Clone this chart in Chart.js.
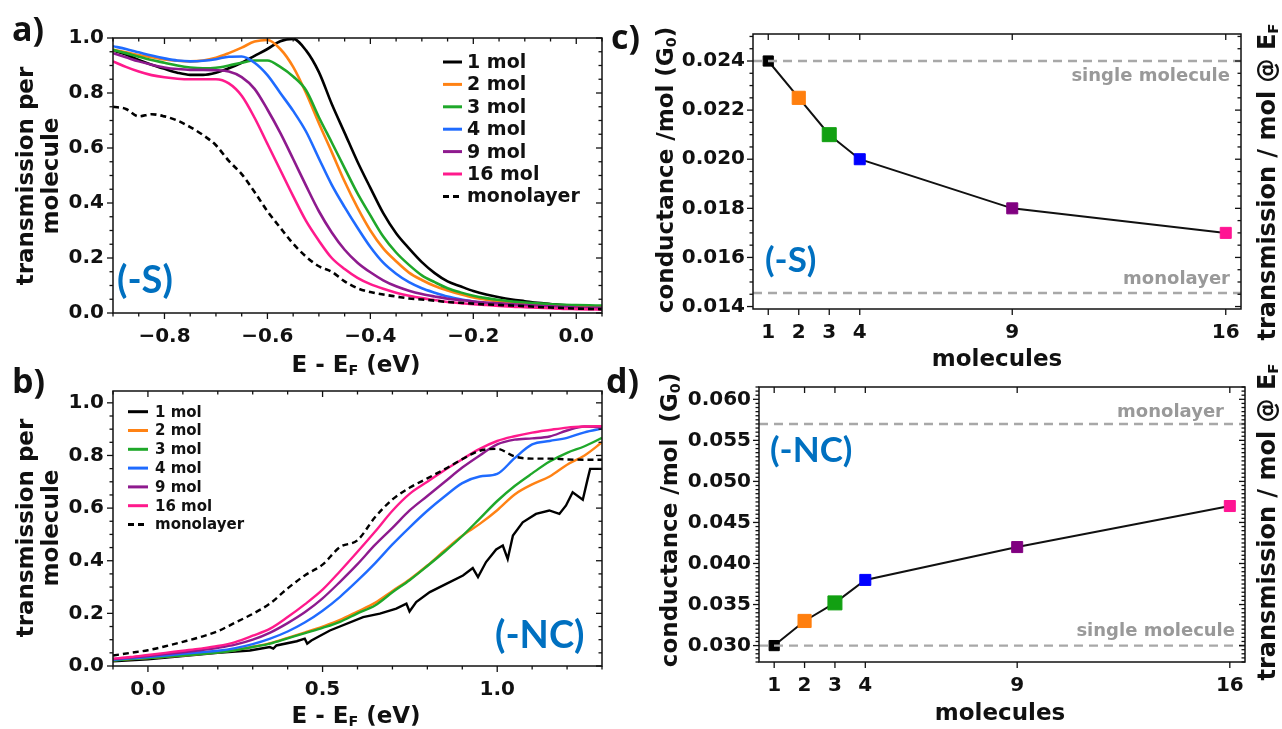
<!DOCTYPE html>
<html>
<head>
<meta charset="utf-8">
<title>Transmission and conductance per molecule</title>
<script src="https://cdn.jsdelivr.net/npm/chart.js@4.4.1/dist/chart.umd.min.js"></script>
<style>
  html, body { margin: 0; padding: 0; background: #fff; }
  #fig { position: relative; width: 1282px; height: 729px; overflow: hidden; background: #fff; }
  #fig canvas { position: absolute; }
  .txt { position: absolute; white-space: nowrap; line-height: 1; color: #111;
         font-family: "DejaVu Sans", sans-serif; font-weight: bold; }
  .c { transform: translate(-50%, -50%); }
  .r { transform: translate(-50%, -50%) rotate(-90deg); text-align: center; }
  .letter { font-family: "Open Sans", sans-serif; font-size: 34px; }
  .tag { font-family: Lato, "Open Sans", sans-serif; color: #0070c0; }
  .title { font-size: 23px; }
  .side { font-size: 24px; }
  .sub { font-size: 0.62em; position: relative; top: 0.2em; }
</style>
</head>
<body>
<div id="fig">
  <canvas id="panelA" width="640" height="360" style="left:0;top:0"></canvas>
  <canvas id="panelB" width="640" height="369" style="left:0;top:360px"></canvas>
  <canvas id="panelC" width="642" height="360" style="left:640px;top:0"></canvas>
  <canvas id="panelD" width="642" height="369" style="left:640px;top:360px"></canvas>

  <div class="txt letter" style="left:12px;top:11px">a)</div>
  <div class="txt letter" style="left:12px;top:363px">b)</div>
  <div class="txt letter" style="left:611px;top:19px">c)</div>
  <div class="txt letter" style="left:606px;top:363px">d)</div>

  <div class="txt tag" style="left:117px;top:259px;font-size:38px">(-S)</div>
  <div class="txt tag" style="left:765px;top:241px;font-size:35px">(-S)</div>
  <div class="txt tag" style="left:495px;top:614px;font-size:38px">(-NC)</div>
  <div class="txt tag" style="left:770px;top:431px;font-size:35px">(-NC)</div>

  <div class="txt title r" style="left:38px;top:176px;line-height:25px">transmission per<br>molecule</div>
  <div class="txt title r" style="left:38px;top:528px;line-height:25px">transmission per<br>molecule</div>
  <div class="txt title c" style="left:356px;top:364px">E - E<span class="sub">F</span> (eV)</div>
  <div class="txt title c" style="left:356px;top:715px">E - E<span class="sub">F</span> (eV)</div>

  <div class="txt title r" style="left:665px;top:170px">conductance /mol (G<span class="sub">0</span>)</div>
  <div class="txt title r" style="left:669px;top:520px">conductance /mol&nbsp; (G<span class="sub">0</span>)</div>
  <div class="txt title c" style="left:997px;top:358px">molecules</div>
  <div class="txt title c" style="left:1000px;top:712px">molecules</div>
  <div class="txt side r" style="left:1267px;top:182px">transmission / mol @ E<span class="sub">F</span></div>
  <div class="txt side r" style="left:1267px;top:522px">transmission / mol @ E<span class="sub">F</span></div>
</div>

<script>
// ---- (a) -S anchoring: transmission per molecule vs E - EF ----
const aEnergy = [-0.9, -0.875, -0.85, -0.825, -0.8, -0.775, -0.75, -0.725, -0.7, -0.675,
  -0.65, -0.625, -0.6, -0.575, -0.55, -0.525, -0.5, -0.475, -0.45, -0.425,
  -0.4, -0.375, -0.35, -0.325, -0.3, -0.275, -0.25, -0.225, -0.2, -0.175,
  -0.15, -0.125, -0.1, -0.075, -0.05, -0.025, 0, 0.025, 0.05];
const aT1 = [0.955, 0.94, 0.92, 0.903, 0.888, 0.874, 0.866, 0.866, 0.874, 0.89,
  0.91, 0.935, 0.96, 0.988, 0.997, 0.955, 0.876, 0.76, 0.655, 0.55,
  0.455, 0.363, 0.29, 0.235, 0.185, 0.145, 0.115, 0.097, 0.08, 0.067,
  0.057, 0.049, 0.043, 0.037, 0.033, 0.029, 0.026, 0.024, 0.022];
const aT2 = [0.957, 0.948, 0.938, 0.93, 0.922, 0.917, 0.915, 0.918, 0.928, 0.945,
  0.965, 0.987, 0.993, 0.96, 0.895, 0.8, 0.69, 0.585, 0.478, 0.383,
  0.3, 0.235, 0.188, 0.147, 0.12, 0.098, 0.082, 0.068, 0.056, 0.048,
  0.042, 0.037, 0.033, 0.03, 0.028, 0.026, 0.024, 0.022, 0.021];
const aT3 = [0.957, 0.945, 0.932, 0.92, 0.91, 0.9, 0.893, 0.89, 0.892, 0.9,
  0.91, 0.918, 0.918, 0.895, 0.86, 0.81, 0.712, 0.62, 0.527, 0.435,
  0.355, 0.278, 0.22, 0.175, 0.137, 0.112, 0.09, 0.075, 0.063, 0.054,
  0.047, 0.042, 0.038, 0.035, 0.032, 0.03, 0.029, 0.028, 0.027];
const aT4 = [0.97, 0.96, 0.948, 0.936, 0.926, 0.918, 0.915, 0.917, 0.923, 0.932,
  0.933, 0.91, 0.865, 0.8, 0.735, 0.66, 0.562, 0.466, 0.385, 0.31,
  0.24, 0.183, 0.143, 0.112, 0.09, 0.074, 0.06, 0.05, 0.042, 0.035,
  0.03, 0.026, 0.023, 0.021, 0.019, 0.018, 0.017, 0.016, 0.015];
const aT9 = [0.945, 0.93, 0.915, 0.903, 0.893, 0.887, 0.884, 0.884, 0.883, 0.878,
  0.858, 0.815, 0.74, 0.655, 0.56, 0.463, 0.37, 0.293, 0.23, 0.183,
  0.148, 0.119, 0.097, 0.081, 0.069, 0.06, 0.052, 0.047, 0.042, 0.038,
  0.035, 0.032, 0.029, 0.026, 0.024, 0.022, 0.02, 0.019, 0.018];
const aT16 = [0.915, 0.895, 0.878, 0.865, 0.857, 0.852, 0.85, 0.85, 0.85, 0.835,
  0.79, 0.71, 0.615, 0.52, 0.425, 0.335, 0.263, 0.2, 0.16, 0.128,
  0.105, 0.088, 0.074, 0.063, 0.054, 0.047, 0.04, 0.036, 0.032, 0.029,
  0.026, 0.023, 0.021, 0.019, 0.017, 0.015, 0.014, 0.013, 0.012];
const aMono = [0.75, 0.742, 0.715, 0.723, 0.715, 0.7, 0.676, 0.647, 0.61, 0.553,
  0.505, 0.44, 0.37, 0.31, 0.252, 0.205, 0.17, 0.15, 0.115, 0.09,
  0.076, 0.067, 0.06, 0.053, 0.049, 0.045, 0.04, 0.037, 0.034, 0.031,
  0.029, 0.027, 0.025, 0.022, 0.02, 0.018, 0.016, 0.015, 0.014];

// ---- (b) -NC anchoring ----
const bEnergy = [-0.1, -0.05, 0, 0.05, 0.1, 0.15, 0.2, 0.25, 0.3, 0.35,
  0.4, 0.45, 0.5, 0.55, 0.6, 0.65, 0.7, 0.75, 0.8, 0.85,
  0.9, 0.95, 1.0, 1.05, 1.1, 1.15, 1.2, 1.25, 1.3];
const bT1Energy = [-0.1, 0, 0.1, 0.2, 0.292, 0.349, 0.359, 0.368, 0.426, 0.449,
  0.456, 0.468, 0.521, 0.616, 0.664, 0.711, 0.74, 0.749, 0.768, 0.807,
  0.854, 0.902, 0.93, 0.945, 0.968, 0.997, 1.016, 1.03, 1.045, 1.073,
  1.111, 1.149, 1.178, 1.197, 1.216, 1.245, 1.259, 1.266, 1.3];
const bT1 = [0.018, 0.025, 0.038, 0.05, 0.059, 0.072, 0.066, 0.078, 0.094, 0.104,
  0.085, 0.097, 0.135, 0.186, 0.199, 0.218, 0.237, 0.207, 0.243, 0.281,
  0.312, 0.344, 0.372, 0.338, 0.395, 0.443, 0.458, 0.407, 0.496, 0.546,
  0.578, 0.591, 0.578, 0.61, 0.66, 0.632, 0.711, 0.749, 0.749];
const bT2 = [0.022, 0.026, 0.03, 0.035, 0.04, 0.046, 0.052, 0.061, 0.073, 0.087,
  0.107, 0.128, 0.15, 0.175, 0.207, 0.24, 0.285, 0.33, 0.382, 0.44,
  0.495, 0.54, 0.592, 0.652, 0.69, 0.72, 0.765, 0.8, 0.85];
const bT3 = [0.021, 0.026, 0.03, 0.035, 0.04, 0.045, 0.051, 0.06, 0.072, 0.085,
  0.105, 0.125, 0.145, 0.168, 0.2, 0.23, 0.28, 0.327, 0.38, 0.435,
  0.494, 0.56, 0.627, 0.684, 0.732, 0.777, 0.81, 0.835, 0.867];
const bT4 = [0.024, 0.029, 0.034, 0.04, 0.046, 0.052, 0.058, 0.068, 0.083, 0.104,
  0.131, 0.166, 0.21, 0.263, 0.324, 0.39, 0.462, 0.528, 0.59, 0.645,
  0.695, 0.72, 0.73, 0.79, 0.842, 0.855, 0.867, 0.888, 0.902];
const bT9 = [0.026, 0.032, 0.038, 0.045, 0.052, 0.06, 0.069, 0.081, 0.1, 0.127,
  0.163, 0.205, 0.257, 0.32, 0.387, 0.46, 0.525, 0.592, 0.646, 0.7,
  0.754, 0.8, 0.842, 0.86, 0.865, 0.872, 0.895, 0.91, 0.907];
const bT16 = [0.028, 0.034, 0.042, 0.05, 0.058, 0.066, 0.076, 0.091, 0.115, 0.142,
  0.186, 0.235, 0.29, 0.36, 0.434, 0.51, 0.59, 0.655, 0.7, 0.745,
  0.786, 0.825, 0.855, 0.873, 0.887, 0.897, 0.906, 0.91, 0.911];
const bMono = [0.04, 0.05, 0.06, 0.075, 0.092, 0.11, 0.132, 0.165, 0.198, 0.238,
  0.295, 0.345, 0.385, 0.452, 0.478, 0.565, 0.633, 0.678, 0.713, 0.748,
  0.786, 0.818, 0.825, 0.796, 0.788, 0.788, 0.785, 0.784, 0.784];

// ---- (c), (d) conductance per molecule vs cluster size ----
const molecules = [1, 2, 3, 4, 9, 16];
const cConductance = [0.024, 0.0225, 0.021, 0.020, 0.018, 0.017];
const dConductance = [0.030, 0.033, 0.0352, 0.038, 0.042, 0.047];
const cSingleMolecule = 0.024;
const cMonolayer = 0.01455;
const dSingleMolecule = 0.030;
const dMonolayer = 0.057;

// ---- labels and tick values ----
const seriesLabels = ['1 mol', '2 mol', '3 mol', '4 mol', '9 mol', '16 mol'];
const monolayerLabel = 'monolayer';
const singleMoleculeLabel = 'single molecule';
const aXTicks = [-0.8, -0.6, -0.4, -0.2, 0];
const aYTicks = [0, 0.2, 0.4, 0.6, 0.8, 1.0];
const bXTicks = [0, 0.5, 1.0];
const bYTicks = [0, 0.2, 0.4, 0.6, 0.8, 1.0];
const cYTicks = [0.014, 0.016, 0.018, 0.020, 0.022, 0.024];
const dYTicks = [0.030, 0.035, 0.040, 0.045, 0.050, 0.055, 0.060];

// ---- styling ----
const FONT = 'DejaVu Sans';
const INK = '#111111';
const curveColors = ['#000000', '#ff8214', '#1fa82a', '#1f6bff', '#8e1a8e', '#ff1a8c'];
const markerColors = ['#000000', '#ff7f0e', '#12a012', '#0000ff', '#800080', '#ff1493'];
const markerRadii = [7.2, 9.3, 9.9, 7.8, 7.8, 7.8];
const refColor = '#a8a8a8';
const refTextColor = '#999999';

function xy(xs, ys) { return xs.map((x, i) => ({ x: x, y: ys[i] })); }

function curve(label, xs, ys, color, width, order, extra) {
  return Object.assign({
    label: label, data: xy(xs, ys), borderColor: color, backgroundColor: color,
    borderWidth: width, pointRadius: 0, fill: false,
    cubicInterpolationMode: 'monotone', order: order
  }, extra || {});
}

function axis(min, max, ticks, fmt, pad, fitKey, fitVal) {
  return {
    type: 'linear', min: min, max: max,
    grid: { display: false, drawTicks: false },
    border: { display: false },
    ticks: {
      autoSkip: false, maxRotation: 0, minRotation: 0, padding: pad, color: INK,
      font: { family: FONT, size: 20, weight: 'bold' }, callback: fmt
    },
    afterBuildTicks: s => { s.ticks = ticks.map(v => ({ value: v })); },
    afterFit: s => { s[fitKey] = fitVal; }
  };
}

const signed1 = v => (v < 0 ? '\u2212' : '') + Math.abs(v).toFixed(1);
const fixed1 = v => v.toFixed(1);
const fixed3 = v => v.toFixed(3);
const plain = v => String(v);

// frame around the plot area with ticks: outward on left/bottom, inward on top/right
function frameTicks(xMinor, yMinor) {
  return {
    id: 'frameTicks',
    afterDraw(chart) {
      const ctx = chart.ctx, a = chart.chartArea, x = chart.scales.x, y = chart.scales.y;
      const MAJ = 6, MIN = 3.5;
      ctx.save();
      ctx.strokeStyle = INK; ctx.lineWidth = 1.3; ctx.setLineDash([]);
      const seg = (x1, y1, x2, y2) => { ctx.beginPath(); ctx.moveTo(x1, y1); ctx.lineTo(x2, y2); ctx.stroke(); };
      const xMark = (v, L) => { const p = x.getPixelForValue(v); seg(p, a.bottom, p, a.bottom + L); seg(p, a.top, p, a.top + L); };
      const yMark = (v, L) => { const p = y.getPixelForValue(v); seg(a.left - L, p, a.left, p); seg(a.right - L, p, a.right, p); };
      const majX = x.ticks.map(t => t.value), majY = y.ticks.map(t => t.value);
      const isMaj = (list, v) => list.some(m => Math.abs(m - v) < 1e-9);
      const minors = (scale, step, majors, mark) => {
        if (!step) return;
        for (let k = Math.ceil(scale.min / step - 1e-6); k * step <= scale.max + 1e-9; k++) {
          const v = k * step;
          if (!isMaj(majors, v)) mark(v, MIN);
        }
      };
      majX.forEach(v => xMark(v, MAJ));
      majY.forEach(v => yMark(v, MAJ));
      minors(x, xMinor, majX, xMark);
      minors(y, yMinor, majY, yMark);
      ctx.lineWidth = 1.5;
      ctx.strokeRect(a.left, a.top, a.right - a.left, a.bottom - a.top);
      ctx.restore();
    }
  };
}

// legend drawn inside the plot area
function insetLegend(x0, y0, row, len, gap, size, width) {
  return {
    id: 'insetLegend',
    afterDraw(chart) {
      const ctx = chart.ctx;
      ctx.save();
      ctx.font = 'bold ' + size + 'px ' + FONT;
      ctx.textBaseline = 'middle';
      ctx.fillStyle = INK;
      chart.data.datasets.forEach((ds, i) => {
        const yy = y0 + i * row;
        ctx.strokeStyle = ds.borderColor;
        ctx.lineWidth = width;
        ctx.setLineDash(ds.borderDash || []);
        ctx.beginPath(); ctx.moveTo(x0, yy); ctx.lineTo(x0 + len, yy); ctx.stroke();
        ctx.setLineDash([]);
        ctx.fillText(ds.label, x0 + len + gap, yy + 1);
      });
      ctx.restore();
    }
  };
}

// grey captions next to the reference lines
function refLabels(items) {
  return {
    id: 'refLabels',
    afterDraw(chart) {
      const ctx = chart.ctx, a = chart.chartArea, y = chart.scales.y;
      ctx.save();
      ctx.font = 'bold 18px ' + FONT;
      ctx.fillStyle = refTextColor;
      ctx.textAlign = 'right';
      ctx.textBaseline = 'middle';
      items.forEach(it => ctx.fillText(it.text, a.right - it.inset, y.getPixelForValue(it.value) + it.dy));
      ctx.restore();
    }
  };
}

function baseOptions(padding, scales) {
  return {
    responsive: false, animation: false, events: [],
    layout: { padding: padding },
    scales: scales,
    plugins: { legend: { display: false }, tooltip: { enabled: false } }
  };
}

// (a)
new Chart(document.getElementById('panelA'), {
  type: 'line',
  data: { datasets: [
    curve(seriesLabels[0], aEnergy, aT1, curveColors[0], 2.6, 7),
    curve(seriesLabels[1], aEnergy, aT2, curveColors[1], 2.6, 6),
    curve(seriesLabels[2], aEnergy, aT3, curveColors[2], 2.6, 5),
    curve(seriesLabels[3], aEnergy, aT4, curveColors[3], 2.6, 4),
    curve(seriesLabels[4], aEnergy, aT9, curveColors[4], 2.6, 3),
    curve(seriesLabels[5], aEnergy, aT16, curveColors[5], 2.6, 2),
    curve(monolayerLabel, aEnergy, aMono, '#000000', 2.6, 1, { borderDash: [6, 4] })
  ] },
  options: baseOptions({ left: 0, top: 38, right: 38, bottom: 0 }, {
    x: axis(-0.9, 0.05, aXTicks, signed1, 12, 'height', 47),
    y: axis(0, 1.0, aYTicks, fixed1, 9, 'width', 113)
  }),
  plugins: [frameTicks(0.05, 0.05), insetLegend(443, 62, 22.4, 19, 5, 19, 3)]
});

// (b)
new Chart(document.getElementById('panelB'), {
  type: 'line',
  data: { datasets: [
    curve(seriesLabels[0], bT1Energy, bT1, curveColors[0], 2.4, 7, { cubicInterpolationMode: 'default', tension: 0 }),
    curve(seriesLabels[1], bEnergy, bT2, curveColors[1], 2.4, 6),
    curve(seriesLabels[2], bEnergy, bT3, curveColors[2], 2.4, 5),
    curve(seriesLabels[3], bEnergy, bT4, curveColors[3], 2.4, 4),
    curve(seriesLabels[4], bEnergy, bT9, curveColors[4], 2.4, 3),
    curve(seriesLabels[5], bEnergy, bT16, curveColors[5], 2.4, 2),
    curve(monolayerLabel, bEnergy, bMono, '#000000', 2.4, 1, { borderDash: [6, 4] })
  ] },
  options: baseOptions({ left: 0, top: 31, right: 38, bottom: 0 }, {
    x: axis(-0.1, 1.3, bXTicks, fixed1, 12, 'height', 63),
    y: axis(0, 1.045, bYTicks, fixed1, 9, 'width', 113)
  }),
  plugins: [frameTicks(0.1, 0.05), insetLegend(128, 51.7, 18.8, 20, 7, 15, 3)]
});

function conductancePanel(id, values, single, mono, yMin, yMax, yTicks, padding, yWidth, xHeight, captions) {
  const xMin = 0.5, xMax = 16.5;
  new Chart(document.getElementById(id), {
    type: 'line',
    data: { datasets: [
      { label: singleMoleculeLabel, data: [{ x: xMin, y: single }, { x: xMax, y: single }],
        borderColor: refColor, borderWidth: 2.4, borderDash: [9, 6], pointRadius: 0, order: 0 },
      { label: monolayerLabel, data: [{ x: xMin, y: mono }, { x: xMax, y: mono }],
        borderColor: refColor, borderWidth: 2.4, borderDash: [9, 6], pointRadius: 0, order: 0 },
      { label: 'conductance', data: xy(molecules, values), borderColor: INK, borderWidth: 2,
        tension: 0, pointStyle: 'rect', pointRadius: markerRadii, pointBackgroundColor: markerColors,
        pointBorderColor: markerColors, pointBorderWidth: 1, order: 1 }
    ] },
    options: baseOptions(padding, {
      x: axis(xMin, xMax, molecules, plain, 12, 'height', xHeight),
      y: axis(yMin, yMax, yTicks, fixed3, 8, 'width', yWidth)
    }),
    plugins: [frameTicks(0, 0.0005), refLabels(captions)]
  });
}

// (c)
conductancePanel('panelC', cConductance, cSingleMolecule, cMonolayer, 0.0139, 0.0251, cYTicks,
  { left: 0, top: 34, right: 41, bottom: 0 }, 113, 51, [
    { text: singleMoleculeLabel, value: cSingleMolecule, inset: 11, dy: 15 },
    { text: monolayerLabel, value: cMonolayer, inset: 11, dy: -14 }
  ]);

// (d)
conductancePanel('panelD', dConductance, dSingleMolecule, dMonolayer, 0.028, 0.0615, dYTicks,
  { left: 0, top: 27, right: 37, bottom: 0 }, 119, 67, [
    { text: singleMoleculeLabel, value: dSingleMolecule, inset: 10, dy: -14 },
    { text: monolayerLabel, value: dMonolayer, inset: 21, dy: -12 }
  ]);
</script>
</body>
</html>
